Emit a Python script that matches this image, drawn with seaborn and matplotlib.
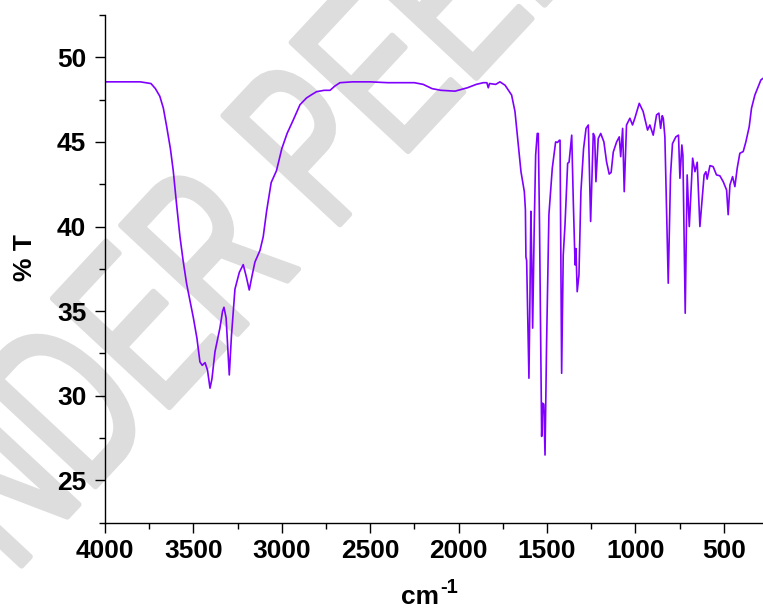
import matplotlib
matplotlib.use("Agg")
import matplotlib.pyplot as plt
import numpy as np
import pandas as pd
import seaborn as sns
from matplotlib.font_manager import FontProperties
from matplotlib.patches import PathPatch
from matplotlib.textpath import TextPath
from matplotlib.transforms import Affine2D
from matplotlib.ticker import MultipleLocator

# FTIR spectrum (wavenumber in cm-1, transmittance in %)
wavenumber = [
    4000, 3900, 3800, 3740, 3715, 3690, 3670, 3651, 3630, 3614, 3595, 3576,
    3557, 3538, 3519, 3500, 3480, 3463, 3450, 3434, 3420, 3406, 3395, 3378,
    3350, 3335, 3327, 3315, 3297, 3285, 3265, 3240, 3218, 3200, 3184, 3170,
    3152, 3123, 3105, 3086, 3060, 3030, 3000, 2970, 2935, 2897, 2860, 2830,
    2803, 2760, 2727, 2700, 2671, 2600, 2500, 2400, 2331, 2250, 2200, 2150,
    2100, 2020, 1950, 1900, 1860, 1840, 1832, 1825, 1790, 1766, 1737, 1700,
    1681, 1662, 1647, 1628, 1622, 1619, 1615, 1602, 1596, 1591, 1586, 1581,
    1572, 1564, 1555, 1549, 1542, 1530, 1525, 1518, 1511, 1502, 1489, 1470,
    1451, 1440, 1430, 1426, 1417, 1408, 1398, 1383, 1375, 1360, 1351, 1341,
    1336, 1329, 1319, 1308, 1293, 1279, 1266, 1253, 1238, 1230, 1223, 1210,
    1196, 1178, 1163, 1148, 1137, 1125, 1106, 1091, 1083, 1072, 1063, 1050,
    1031, 1016, 1003, 978, 956, 931, 918, 899, 880, 867, 857, 848, 842, 833,
    814, 801, 790, 771, 756, 748, 737, 731, 718, 707, 695, 676, 663, 650, 635,
    620, 611, 601, 594, 578, 560, 541, 522, 503, 484, 475, 465, 450, 437, 424,
    409, 390, 375, 356, 343, 324, 305, 290, 278,
]
transmittance = [
    48.55, 48.55, 48.55, 48.45, 48.15, 47.7, 47.0, 45.9, 44.6, 43.3, 41.3, 39.4,
    37.9, 36.6, 35.6, 34.6, 33.4, 32.0, 31.8, 31.96, 31.5, 30.45, 31.0, 32.6,
    34.0, 35.0, 35.23, 34.6, 31.23, 33.5, 36.3, 37.3, 37.75, 37.0, 36.25, 37.0,
    37.9, 38.6, 39.4, 40.9, 42.6, 43.3, 44.6, 45.5, 46.3, 47.2, 47.6, 47.8,
    47.97, 48.05, 48.05, 48.3, 48.5, 48.55, 48.55, 48.5, 48.5, 48.5, 48.4, 48.15,
    48.05, 48.0, 48.2, 48.4, 48.5, 48.5, 48.2, 48.45, 48.4, 48.55, 48.35, 47.77,
    46.8, 44.8, 43.24, 42.06, 41.0, 38.2, 38.0, 31.04, 36.0, 40.9, 38.0, 34.0,
    40.0, 44.23, 45.5, 45.5, 40.0, 27.6, 29.56, 29.5, 26.5, 33.2, 40.7, 43.44,
    45.0, 44.97, 45.1, 45.1, 31.33, 38.3, 40.1, 43.74, 43.8, 45.4, 41.47, 37.73,
    38.7, 36.15, 37.14, 42.06, 44.6, 45.8, 46.0, 40.3, 45.5, 45.3, 42.65, 45.2,
    45.5, 45.0, 43.83, 43.1, 43.2, 44.4, 45.0, 45.3, 44.13, 45.8, 42.06, 46.0,
    46.4, 46.0, 46.4, 47.28, 46.8, 45.7, 46.0, 45.4, 46.6, 46.7, 45.8, 46.55, 46.4, 45.3,
    36.65, 43.05, 44.9, 45.3, 45.4, 42.85, 44.82, 44.2, 34.88, 43.05, 40.0, 44.04, 43.24, 43.8, 40.0,
    41.87, 43.05, 43.24, 42.8, 43.6, 43.54, 43.05, 43.0, 42.65, 42.16, 40.7, 42.46, 42.95, 42.36, 43.44,
    44.33, 44.43, 45.0, 45.9, 46.99, 47.77, 48.26, 48.66, 48.76,
]

x_ticks = [4000, 3500, 3000, 2500, 2000, 1500, 1000, 500]
y_ticks = [25, 30, 35, 40, 45, 50]

df = pd.DataFrame({"wavenumber": wavenumber, "T": transmittance})

sns.set_style("ticks")
plt.rcParams["font.family"] = ["Liberation Sans", "DejaVu Sans"]
plt.rcParams["text.color"] = "black"
plt.rcParams["axes.labelcolor"] = "black"
plt.rcParams["xtick.color"] = "black"
plt.rcParams["ytick.color"] = "black"

fig = plt.figure(figsize=(7.63, 6.11), dpi=100)
ax = fig.add_axes([105 / 763, 1 - 522.7 / 611, 1 - 105 / 763, (522.7 - 15) / 611])
ax.set_facecolor("none")

# "UNDER PEER REVIEW" watermark behind the plot
fp = FontProperties(family="Liberation Sans", weight="normal")
wm = TextPath((0, 0), "UNDER PEER REVIEW", size=1, prop=fp)
p_left = TextPath((0, 0), "UNDER P", size=1, prop=fp).get_extents().x1 - \
    TextPath((0, 0), "P", size=1, prop=fp).get_extents().width
wm_tr = Affine2D().translate(-p_left - 0.05, 0).scale(150, 232).rotate_deg(47).translate(345, 392)
fig.add_artist(PathPatch(wm, transform=wm_tr, facecolor="#dddddd", edgecolor="#dddddd",
                         lw=4, joinstyle="round", capstyle="round", zorder=-1))

sns.lineplot(data=df, x="wavenumber", y="T", sort=False, color="#8000ff",
             linewidth=1.2, ax=ax)

ax.set_xlim(4000, 278)
ax.set_ylim(22.5, 52.5)
ax.set_xticks(x_ticks)
ax.set_yticks(y_ticks)
ax.xaxis.set_minor_locator(MultipleLocator(250))
ax.yaxis.set_minor_locator(MultipleLocator(2.5))
ax.tick_params(which="major", direction="out", length=7.5, width=1, labelsize=19)
ax.tick_params(axis="x", which="major", pad=4)
ax.tick_params(axis="y", which="major", pad=6)
ax.tick_params(which="minor", direction="out", length=4, width=1)
for lab in ax.get_xticklabels() + ax.get_yticklabels():
    lab.set_fontweight("bold")

sns.despine(ax=ax)
for side in ["left", "bottom"]:
    ax.spines[side].set_linewidth(1.0)
    ax.spines[side].set_color("black")

ax.set_xlabel("cm", fontsize=19, fontweight="bold", va="baseline")
ax.xaxis.set_label_coords((420 - 105) / 658, (522.7 - 604) / 507.7)
fig.text(440 / 763, 1 - 593 / 611, "-1", fontsize=14.5, fontweight="bold", va="baseline")
ax.set_ylabel("% T", fontsize=19, fontweight="bold", va="center", ha="center")
ax.yaxis.set_label_coords((25 - 105) / 658, (522.7 - 257.7) / 507.7)

fig.savefig("out.png", dpi=100)
